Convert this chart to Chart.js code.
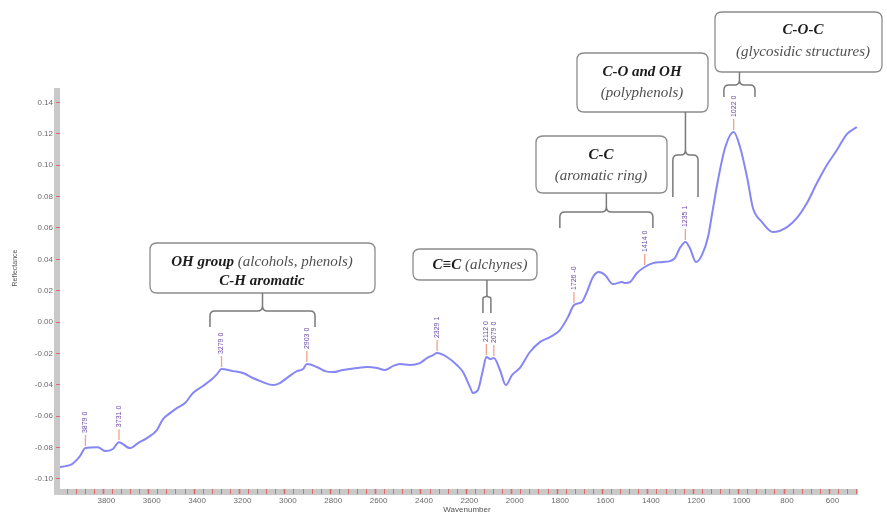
<!DOCTYPE html>
<html><head><meta charset="utf-8">
<script src="https://cdn.jsdelivr.net/npm/chart.js@4/dist/chart.umd.min.js"></script>
<style>html,body{margin:0;padding:0;background:#fff;}canvas{display:block;}</style>
</head><body>
<canvas id="c" width="887" height="513"></canvas>
<script>
// ---- data ----
const wavenumbers = [3991,3965,3938,3903,3879,3824,3793,3758,3731,3683,3647,3608,3564,3537,3506,3476,3440,3405,3361,3321,3299,3279,3229,3185,3141,3097,3052,3022,2986,2947,2920,2903,2859,2823,2788,2744,2682,2638,2594,2559,2524,2493,2449,2405,2374,2347,2329,2286,2242,2215,2184,2171,2149,2127,2112,2095,2079,2052,2026,1999,1964,1920,1876,1832,1788,1752,1726,1691,1669,1642,1616,1589,1554,1514,1501,1479,1448,1414,1378,1334,1303,1281,1259,1235,1215,1188,1162,1135,1118,1091,1060,1022,994,963,937,897,849,787,743,699,655,611,567,523,479];
const reflectance = [-0.0925,-0.0919,-0.0906,-0.0855,-0.0804,-0.0798,-0.0823,-0.0810,-0.0766,-0.0804,-0.0772,-0.0740,-0.0689,-0.0619,-0.0581,-0.0549,-0.0517,-0.0453,-0.0408,-0.0364,-0.0332,-0.0300,-0.0313,-0.0325,-0.0357,-0.0383,-0.0402,-0.0389,-0.0351,-0.0313,-0.0300,-0.0268,-0.0287,-0.0313,-0.0319,-0.0306,-0.0293,-0.0287,-0.0293,-0.0306,-0.0281,-0.0268,-0.0274,-0.0262,-0.0230,-0.0211,-0.0198,-0.0223,-0.0274,-0.0319,-0.0415,-0.0453,-0.0434,-0.0306,-0.0223,-0.0236,-0.0230,-0.0306,-0.0402,-0.0338,-0.0293,-0.0191,-0.0128,-0.0096,-0.0051,0.0032,0.0108,0.0128,0.0191,0.0287,0.0319,0.0300,0.0242,0.0255,0.0249,0.0255,0.0313,0.0351,0.0376,0.0383,0.0389,0.0408,0.0472,0.0510,0.0472,0.0383,0.0427,0.0542,0.0683,0.0906,0.1110,0.1212,0.1117,0.0925,0.0727,0.0638,0.0574,0.0606,0.0664,0.0759,0.0887,0.1002,0.1097,0.1199,0.1244];
const peakWavenumbers = [3879,3731,3279,2903,2329,2112,2079,1726,1414,1235,1022];
const peakLabels = ["3879 0","3731 0","3279 0","2903 0","2329 1","2112 0","2079 0","1726 -0","1414 0","1235 1","1022 0"];
const xLabelValues = [3800,3600,3400,3200,3000,2800,2600,2400,2200,2000,1800,1600,1400,1200,1000,800,600];
const yTickValues = [-0.10,-0.08,-0.06,-0.04,-0.02,0.00,0.02,0.04,0.06,0.08,0.10,0.12,0.14];
const xTitle = "Wavenumber";
const yTitle = "Reflectance";
// annotation bands: wavenumber span of each bracket and its box text
const bandRanges = [[3330,2867],[2127,2092],[1788,1378],[1290,1179],[1065,928]];
const bandLines = [
  [[["OH group","b"],[" (alcohols, phenols)","i"]],[["C-H aromatic","b"]]],
  [[["C\u2261C","b"],[" (alchynes)","i"]]],
  [[["C-C","b"]],[["(aromatic ring)","i"]]],
  [[["C-O and OH","b"]],[["(polyphenols)","i"]]],
  [[["C-O-C","b"]],[["(glycosidic structures)","i"]]]
];
// ---- layout (pixels) for annotation boxes/brackets ----
const boxLayout = [
  {x0:150,y0:243,x1:375,y1:293,cx:262,lineY:[262,281],br:[293,311,327]},
  {x0:413,y0:249,x1:537,y1:280,cx:480,lineY:[265],br:[280,297,313]},
  {x0:536,y0:136,x1:667,y1:193,cx:601,lineY:[155,176],br:[193,212,228]},
  {x0:577,y0:53,x1:708,y1:112,cx:642,lineY:[72,93],br:[112,155,197]},
  {x0:715,y0:12,x1:882,y1:72,cx:803,lineY:[30,52],br:[72,85,97]}
];

const xMinorTicks = [];
for (let v = 3960; v >= 480; v -= 40) xMinorTicks.push(v);

function rr(ctx,x0,y0,x1,y1,r){
  ctx.beginPath();
  ctx.moveTo(x0+r,y0);ctx.lineTo(x1-r,y0);ctx.quadraticCurveTo(x1,y0,x1,y0+r);
  ctx.lineTo(x1,y1-r);ctx.quadraticCurveTo(x1,y1,x1-r,y1);
  ctx.lineTo(x0+r,y1);ctx.quadraticCurveTo(x0,y1,x0,y1-r);
  ctx.lineTo(x0,y0+r);ctx.quadraticCurveTo(x0,y0,x0+r,y0);ctx.closePath();
}
function brace(ctx,xl,xr,yTip,yMid,yEnd){
  const xc=(xl+xr)/2, r=Math.min(5,(xr-xl)/4);
  ctx.beginPath();
  ctx.moveTo(xl,yEnd);ctx.lineTo(xl,yMid+r);ctx.quadraticCurveTo(xl,yMid,xl+r,yMid);
  ctx.lineTo(xc-r,yMid);ctx.quadraticCurveTo(xc,yMid,xc,yMid-r);ctx.lineTo(xc,yTip);
  ctx.moveTo(xr,yEnd);ctx.lineTo(xr,yMid+r);ctx.quadraticCurveTo(xr,yMid,xr-r,yMid);
  ctx.lineTo(xc+r,yMid);ctx.quadraticCurveTo(xc,yMid,xc,yMid-r);
  ctx.stroke();
}
const FB='italic bold 15px "Liberation Serif"', FI='italic 15px "Liberation Serif"';

const decor = {
  id:'decor',
  beforeDraw(chart){
    const ctx=chart.ctx, a=chart.chartArea;
    ctx.save();
    ctx.fillStyle='#c9c9c9';
    ctx.fillRect(a.left-6,a.top,6,a.bottom-a.top+6);
    ctx.fillRect(a.left-6,a.bottom,a.right-a.left+6,6);
    ctx.restore();
  },
  afterDraw(chart){
    const ctx=chart.ctx, xs=chart.scales.x, ys=chart.scales.y;
    ctx.save();
    // axis titles
    ctx.fillStyle='#555';
    ctx.font='7px "Liberation Sans"';
    ctx.textAlign='center';ctx.textBaseline='middle';
    ctx.save();ctx.translate(15,268);ctx.rotate(-Math.PI/2);ctx.fillText(yTitle,0,0);ctx.restore();
    ctx.font='8px "Liberation Sans"';
    ctx.fillText(xTitle,467,510);
    // peak labels
    peakWavenumbers.forEach((w,i)=>{
      const k=wavenumbers.indexOf(w);
      const px=xs.getPixelForValue(w), py=ys.getPixelForValue(reflectance[k]);
      ctx.strokeStyle='#f2a08c';ctx.lineWidth=1.3;
      ctx.beginPath();ctx.moveTo(px,py-2);ctx.lineTo(px,py-13);ctx.stroke();
      ctx.save();ctx.translate(px,py-15);ctx.rotate(-Math.PI/2);
      ctx.font='7px "Liberation Sans"';ctx.fillStyle='#6a4aa8';
      ctx.textAlign='left';ctx.textBaseline='middle';
      ctx.fillText(peakLabels[i],0,0);ctx.restore();
    });
    // boxes and brackets
    bandRanges.forEach((rg,i)=>{
      const L=boxLayout[i];
      ctx.fillStyle='#fff';ctx.strokeStyle='#8c8c8c';ctx.lineWidth=1.3;
      rr(ctx,L.x0,L.y0,L.x1,L.y1,7);ctx.fill();ctx.stroke();
      ctx.textBaseline='middle';ctx.textAlign='left';
      bandLines[i].forEach((segs,j)=>{
        let tw=0;
        segs.forEach(s=>{ctx.font=s[1]==='b'?FB:FI;tw+=ctx.measureText(s[0]).width;});
        let x=L.cx-tw/2;
        segs.forEach(s=>{ctx.font=s[1]==='b'?FB:FI;ctx.fillStyle=s[1]==='b'?'#1c1c1c':'#505050';
          ctx.fillText(s[0],x,L.lineY[j]);x+=ctx.measureText(s[0]).width;});
      });
      const xl=xs.getPixelForValue(rg[0]), xr=xs.getPixelForValue(rg[1]);
      ctx.strokeStyle='#7a7a7a';ctx.lineWidth=1.5;
      brace(ctx,xl,xr,L.br[0],L.br[1],L.br[2]);
    });
    ctx.restore();
  }
};

new Chart(document.getElementById('c'),{
  type:'line',
  data:{datasets:[{
    data:wavenumbers.map((w,i)=>({x:w,y:reflectance[i]})),
    borderColor:'#8686f4',borderWidth:2,pointRadius:0,fill:false,
    cubicInterpolationMode:'monotone'
  }]},
  options:{
    responsive:false,animation:false,devicePixelRatio:1,
    layout:{padding:{top:88,right:29,bottom:0,left:0}},
    plugins:{legend:{display:false},tooltip:{enabled:false}},
    scales:{
      x:{type:'linear',reverse:true,min:474,max:3991,
        afterBuildTicks:s=>{s.ticks=xMinorTicks.map(v=>({value:v}));},
        afterFit:s=>{s.height=24;},
        ticks:{autoSkip:false,maxRotation:0,minRotation:0,padding:2,labelOffset:3,color:'#6a6a6a',
          font:{family:'"Liberation Sans"',size:8},
          callback:v=>xLabelValues.includes(v)?String(v):''},
        grid:{drawOnChartArea:false,drawTicks:true,tickLength:5,tickColor:'#e06a6a',
          tickWidth:c=>(c.tick&&xLabelValues.includes(c.tick.value))?1.6:1},
        border:{display:false}},
      y:{type:'linear',min:-0.1065,max:0.1493,
        afterBuildTicks:s=>{s.ticks=yTickValues.map(v=>({value:v}));},
        afterFit:s=>{s.width=60;},
        ticks:{color:'#6a6a6a',font:{family:'"Liberation Sans"',size:8},padding:3,
          callback:v=>Number(v).toFixed(2)},
        grid:{drawOnChartArea:false,tickLength:4,tickColor:'#e06a6a'},
        border:{display:false}}
    }
  },
  plugins:[decor]
});
</script>
</body></html>
